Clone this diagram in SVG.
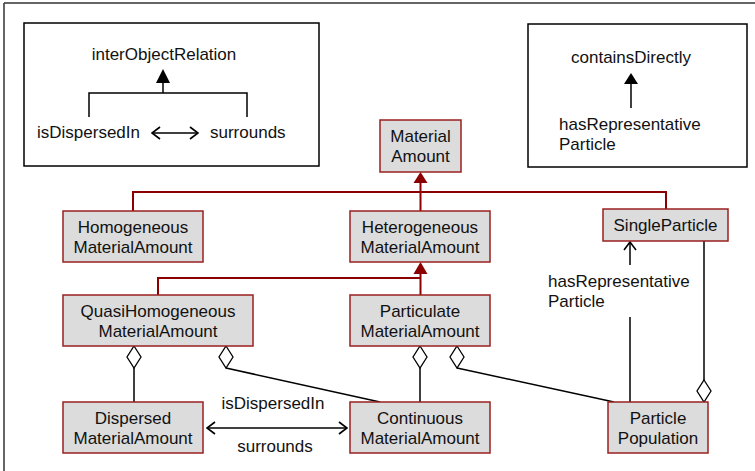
<svg xmlns="http://www.w3.org/2000/svg" width="755" height="471" viewBox="0 0 755 471">
<style>
text{font-family:"Liberation Sans",Arial,sans-serif;font-size:17px;fill:#111}
.c{text-anchor:middle}
.node{fill:#dcdcdc;stroke:#9a1f1f;stroke-width:1.5}
.gen{fill:none;stroke:#8b0000;stroke-width:2}
.ln{fill:none;stroke:#000;stroke-width:1.5}
.box{fill:#fff;stroke:#000;stroke-width:1.5}
.dia{fill:#fff;stroke:#000;stroke-width:1.3}
</style>
<defs>
<marker id="openA" viewBox="0 0 10 14" refX="9" refY="7" markerWidth="10" markerHeight="14" markerUnits="userSpaceOnUse" orient="auto-start-reverse">
<path d="M1,1 L9,7 L1,13" fill="none" stroke="#000" stroke-width="1.6"/>
</marker>
</defs>
<g id="frame">
<line x1="4" y1="3" x2="4" y2="471" stroke="#333" stroke-width="1.5"/>
<line x1="4" y1="3" x2="755" y2="3" stroke="#333" stroke-width="1.5"/>
</g>
<g id="legend-left">
<rect class="box" x="24" y="23" width="295" height="143"/>
<text class="c" x="164" y="60">interObjectRelation</text>
<polygon points="163,69 156,83 170,83" fill="#000"/>
<polyline class="ln" points="89,117 89,93 247,93 247,117" stroke-width="2"/>
<line class="ln" x1="163" y1="83" x2="163" y2="93" stroke-width="2"/>
<text x="37" y="138">isDispersedIn</text>
<text x="210" y="138">surrounds</text>
<line class="ln" x1="152" y1="133" x2="198" y2="133" marker-start="url(#openA)" marker-end="url(#openA)"/>
</g>
<g id="legend-right">
<rect class="box" x="528" y="24" width="219" height="143"/>
<text class="c" x="631" y="63">containsDirectly</text>
<polygon points="631,73 624,84 638,84" fill="#000"/>
<line class="ln" x1="631" y1="84" x2="631" y2="108" stroke-width="2"/>
<text x="559" y="130">hasRepresentative</text>
<text x="559" y="150">Particle</text>
</g>
<g id="connectors">
<polygon points="420.5,172 413.5,183 427.5,183" fill="#8b0000"/>
<line class="gen" x1="420.5" y1="183" x2="420.5" y2="211"/>
<polyline class="gen" points="133,211 133,192 666,192 666,209"/>
<polygon points="420.5,262 413.5,274 427.5,274" fill="#8b0000"/>
<line class="gen" x1="420.5" y1="274" x2="420.5" y2="295"/>
<polyline class="gen" points="158,295 158,278 420.5,278"/>
<polygon class="dia" points="134,346 141,357 134,368 127,357"/>
<line class="ln" x1="134" y1="368" x2="134" y2="402"/>
<polygon class="dia" points="226,346 233,357 226,368 219,357"/>
<line class="ln" x1="226" y1="368" x2="380" y2="402"/>
<polygon class="dia" points="420,346 427,357 420,368 413,357"/>
<line class="ln" x1="420" y1="368" x2="420" y2="402"/>
<polygon class="dia" points="457,346 464,357 457,368 450,357"/>
<line class="ln" x1="457" y1="368" x2="614" y2="402"/>
<line class="ln" x1="704" y1="241" x2="704" y2="380"/>
<polygon class="dia" points="704,380 711,391 704,402 697,391"/>
<line class="ln" x1="630" y1="265" x2="630" y2="242" marker-end="url(#openA)"/>
<line class="ln" x1="630" y1="317" x2="630" y2="402"/>
<text x="548" y="287">hasRepresentative</text>
<text x="548" y="307">Particle</text>
<line class="ln" x1="207" y1="428" x2="347" y2="428" marker-start="url(#openA)" marker-end="url(#openA)"/>
<text class="c" x="273" y="409">isDispersedIn</text>
<text class="c" x="275" y="452">surrounds</text>
</g>
<g id="MaterialAmount">
<rect class="node" x="380" y="120" width="81" height="52"/>
<text class="c" x="420.5" y="142">Material</text>
<text class="c" x="420.5" y="162">Amount</text>
</g>
<g id="HomogeneousMaterialAmount">
<rect class="node" x="63" y="211" width="140" height="51"/>
<text class="c" x="133" y="233">Homogeneous</text>
<text class="c" x="133" y="253">MaterialAmount</text>
</g>
<g id="HeterogeneousMaterialAmount">
<rect class="node" x="350" y="211" width="140" height="51"/>
<text class="c" x="420" y="233">Heterogeneous</text>
<text class="c" x="420" y="253">MaterialAmount</text>
</g>
<g id="SingleParticle">
<rect class="node" x="603" y="209" width="125" height="32"/>
<text class="c" x="665.5" y="231">SingleParticle</text>
</g>
<g id="QuasiHomogeneousMaterialAmount">
<rect class="node" x="63" y="295" width="190" height="51"/>
<text class="c" x="158" y="317">QuasiHomogeneous</text>
<text class="c" x="158" y="337">MaterialAmount</text>
</g>
<g id="ParticulateMaterialAmount">
<rect class="node" x="350" y="295" width="140" height="51"/>
<text class="c" x="420" y="317">Particulate</text>
<text class="c" x="420" y="337">MaterialAmount</text>
</g>
<g id="DispersedMaterialAmount">
<rect class="node" x="63" y="402" width="140" height="51"/>
<text class="c" x="133" y="424">Dispersed</text>
<text class="c" x="133" y="444">MaterialAmount</text>
</g>
<g id="ContinuousMaterialAmount">
<rect class="node" x="350" y="402" width="140" height="51"/>
<text class="c" x="420" y="424">Continuous</text>
<text class="c" x="420" y="444">MaterialAmount</text>
</g>
<g id="ParticlePopulation">
<rect class="node" x="608" y="402" width="100" height="51"/>
<text class="c" x="658" y="424">Particle</text>
<text class="c" x="658" y="444">Population</text>
</g>
</svg>
